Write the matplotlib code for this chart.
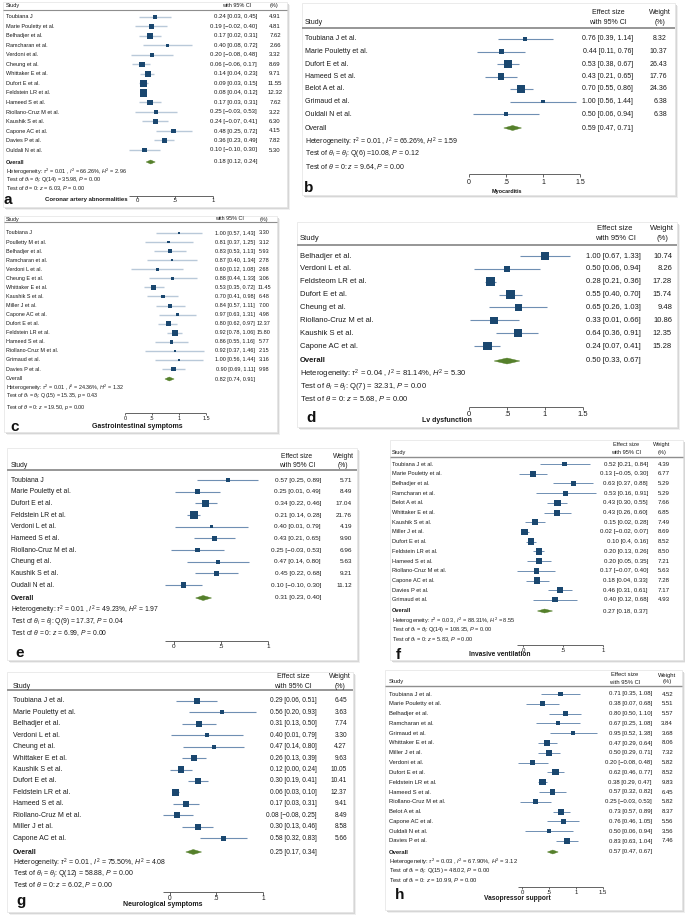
import numpy as np
import matplotlib
matplotlib.use('Agg')
import matplotlib.pyplot as plt
from matplotlib.patches import Rectangle, Polygon
from matplotlib.transforms import blended_transform_factory

plt.rcParams['font.family'] = ['Liberation Sans', 'DejaVu Sans']
plt.rcParams['mathtext.fontset'] = 'custom'
plt.rcParams['mathtext.rm'] = 'Liberation Sans'
plt.rcParams['mathtext.it'] = 'Liberation Sans:italic'
plt.rcParams['mathtext.bf'] = 'Liberation Sans:bold'

# ---------------- DATA ----------------
# a: Coronary artery abnormalities
a_studies = ['Toubiana J', 'Marie Pouletty et al.', 'Belhadjer et al.', 'Ramcharan et al.', 'Verdoni et al.',
             'Cheung et al.', 'Whittaker E et al.', 'Dufort E et al.', 'Feldstein LR et al.', 'Hameed S et al.',
             'Riollano-Cruz M et al.', 'Kaushik S et al.', 'Capone AC et al.', 'Davies P et al.', 'Ouldali N et al.']
a_es = [0.24, 0.19, 0.17, 0.40, 0.20, 0.06, 0.14, 0.09, 0.08, 0.17, 0.25, 0.24, 0.48, 0.36, 0.10]
a_lo = [0.03, -0.02, 0.02, 0.08, -0.08, -0.06, 0.04, 0.03, 0.04, 0.03, -0.03, 0.07, 0.25, 0.23, -0.10]
a_hi = [0.45, 0.40, 0.31, 0.72, 0.48, 0.17, 0.23, 0.15, 0.12, 0.31, 0.53, 0.41, 0.72, 0.49, 0.30]
a_wt = [4.91, 4.81, 7.62, 2.66, 3.32, 8.69, 9.71, 11.55, 12.32, 7.62, 3.22, 6.30, 4.15, 7.82, 5.30]
a_ci_text = {11: '0.24 [\u22120.07, 0.41]'}
a_overall = (0.18, 0.12, 0.24)
a_stats = dict(tau2=0.01, I2=66.26, H2=2.96, df=14, Q=35.98, pQ=0.00, z=6.03, pz=0.00)

# b: Myocarditis
b_studies = ['Toubiana J et al.', 'Marie Pouletty et al.', 'Dufort E et al.', 'Hameed S et al.',
             'Belot A et al.', 'Grimaud et al.', 'Ouldali N et al.']
b_es = [0.76, 0.44, 0.53, 0.43, 0.70, 1.00, 0.50]
b_lo = [0.39, 0.11, 0.38, 0.21, 0.55, 0.56, 0.06]
b_hi = [1.14, 0.76, 0.67, 0.65, 0.86, 1.44, 0.94]
b_wt = [8.32, 10.37, 26.43, 17.76, 24.36, 6.38, 6.38]
b_ci_text = {}
b_overall = (0.59, 0.47, 0.71)
b_stats = dict(tau2=0.01, I2=66.26, H2=1.59, df=6, Q=10.08, pQ=0.12, z=9.64, pz=0.00)

# c: Gastrointestinal symptoms
c_studies = ['Toubiana J', 'Poulletty M et al.', 'Belhadjer et al.', 'Ramcharan et al.', 'Verdoni L et al.',
             'Cheung E et al.', 'Whittaker E et al.', 'Kaushik S et al.', 'Miller J et al.', 'Capone AC et al.',
             'Dufort E et al.', 'Feldstein LR et al.', 'Hameed S et al.', 'Riollano-Cruz M et al.',
             'Grimaud et al.', 'Davies P et al.']
c_es = [1.00, 0.81, 0.83, 0.87, 0.60, 0.88, 0.53, 0.70, 0.84, 0.97, 0.80, 0.92, 0.86, 0.92, 1.00, 0.90]
c_lo = [0.57, 0.37, 0.53, 0.40, 0.12, 0.44, 0.35, 0.41, 0.57, 0.63, 0.62, 0.78, 0.55, 0.37, 0.56, 0.69]
c_hi = [1.43, 1.25, 1.13, 1.34, 1.08, 1.33, 0.72, 0.98, 1.11, 1.31, 0.97, 1.06, 1.16, 1.46, 1.44, 1.11]
c_wt = [3.30, 3.12, 5.93, 2.78, 2.68, 3.06, 11.45, 6.48, 7.00, 4.98, 12.37, 15.80, 5.77, 2.15, 3.16, 9.98]
c_ci_text = {}
c_overall = (0.82, 0.74, 0.91)
c_stats = dict(tau2=0.01, I2=24.36, H2=1.32, df=15, Q=15.35, pQ=0.43, z=19.50, pz=0.00)

# d: Lv dysfunction
d_studies = ['Belhadjer et al.', 'Verdoni L et al.', 'Feldsteom LR et al.', 'Dufort E et al.', 'Cheung et al.',
             'Riollano-Cruz M et al.', 'Kaushik S et al.', 'Capone AC et al.']
d_es = [1.00, 0.50, 0.28, 0.55, 0.65, 0.33, 0.64, 0.24]
d_lo = [0.67, 0.06, 0.21, 0.40, 0.26, 0.01, 0.36, 0.07]
d_hi = [1.33, 0.94, 0.36, 0.70, 1.03, 0.66, 0.91, 0.41]
d_wt = [10.74, 8.26, 17.28, 15.74, 9.48, 10.86, 12.35, 15.28]
d_ci_text = {}
d_overall = (0.50, 0.33, 0.67)
d_stats = dict(tau2=0.04, I2=81.14, H2=5.30, df=7, Q=32.31, pQ=0.00, z=5.68, pz=0.00)

# e
e_studies = ['Toubiana J', 'Marie Pouletty et al.', 'Dufort E et al.', 'Feldstein LR et al.', 'Verdoni L et al.',
             'Hameed S et al.', 'Riollano-Cruz M et al.', 'Cheung et al.', 'Kaushik S et al.', 'Oudali N et al.']
e_es = [0.57, 0.25, 0.34, 0.21, 0.40, 0.43, 0.25, 0.47, 0.45, 0.10]
e_lo = [0.25, 0.01, 0.22, 0.14, 0.01, 0.21, -0.03, 0.14, 0.22, -0.10]
e_hi = [0.89, 0.49, 0.46, 0.28, 0.79, 0.65, 0.53, 0.80, 0.68, 0.30]
e_wt = [5.71, 8.49, 17.04, 21.76, 4.19, 9.90, 6.96, 5.63, 9.21, 11.12]
e_ci_text = {}
e_overall = (0.31, 0.23, 0.40)
e_stats = dict(tau2=0.01, I2=49.23, H2=1.97, df=9, Q=17.37, pQ=0.04, z=6.99, pz=0.00)

# f: Invasive ventilation
f_studies = ['Toubiana J et al.', 'Marie Pouletty et al.', 'Belhadjer et al.', 'Ramcharan et al.', 'Belot A et al.',
             'Whittaker E et al.', 'Kaushik S et al.', 'Miller J et al.', 'Dufort E et al.', 'Feldstein LR et al.',
             'Hameed S et al.', 'Riollano-Cruz M et al.', 'Capone AC et al.', 'Davies P et al.', 'Grimaud et al.']
f_es = [0.52, 0.13, 0.63, 0.53, 0.43, 0.43, 0.15, 0.02, 0.10, 0.20, 0.20, 0.17, 0.18, 0.46, 0.40]
f_lo = [0.21, -0.05, 0.37, 0.16, 0.30, 0.26, 0.02, -0.02, 0.04, 0.13, 0.05, -0.07, 0.04, 0.31, 0.12]
f_hi = [0.84, 0.30, 0.88, 0.91, 0.55, 0.60, 0.28, 0.07, 0.16, 0.26, 0.35, 0.40, 0.33, 0.61, 0.68]
f_wt = [4.39, 6.77, 5.29, 5.29, 7.66, 6.85, 7.49, 8.69, 8.52, 8.50, 7.21, 5.63, 7.28, 7.17, 4.93]
f_ci_text = {8: '0.10 [0.4, 0.16]'}
f_overall = (0.27, 0.18, 0.37)
f_stats = dict(tau2=0.03, I2=88.31, H2=8.55, df=14, Q=108.35, pQ=0.00, z=5.83, pz=0.00)

# g: Neurological symptoms
g_studies = ['Toubiana J et al.', 'Marie Pouletty et al.', 'Belhadjer et al.', 'Verdoni L et al.', 'Cheung et al.',
             'Whittaker E et al.', 'Kaushik S et al.', 'Dufort E et al.', 'Feldstein LR et al.', 'Hameed S et al.',
             'Riollano-Cruz M et al.', 'Miller J et al.', 'Capone AC et al.']
g_es = [0.29, 0.56, 0.31, 0.40, 0.47, 0.26, 0.12, 0.30, 0.06, 0.17, 0.08, 0.30, 0.58]
g_lo = [0.06, 0.20, 0.13, 0.01, 0.14, 0.13, 0.00, 0.19, 0.03, 0.03, -0.08, 0.13, 0.32]
g_hi = [0.51, 0.93, 0.50, 0.79, 0.80, 0.39, 0.24, 0.41, 0.10, 0.31, 0.25, 0.46, 0.83]
g_wt = [6.45, 3.63, 7.74, 3.30, 4.27, 9.63, 10.05, 10.41, 12.37, 9.41, 8.49, 8.58, 5.66]
g_ci_text = {}
g_overall = (0.25, 0.17, 0.34)
g_stats = dict(tau2=0.01, I2=75.50, H2=4.08, df=12, Q=58.88, pQ=0.00, z=6.02, pz=0.00)

# h: Vasopressor support
h_studies = ['Toubiana J et al.', 'Marie Pouletty et al.', 'Belhadjer et al.', 'Ramcharan et al.', 'Grimaud et al.',
             'Whittaker E et al.', 'Miller J et al.', 'Verdoni et al.', 'Dufort E et al.', 'Feldstein LR et al.',
             'Hameed S et al.', 'Riollano-Cruz M et al.', 'Belot A et al.', 'Capone AC et al.',
             'Ouldali N et al.', 'Davies P et al.']
h_es = [0.71, 0.38, 0.80, 0.67, 0.95, 0.47, 0.50, 0.20, 0.62, 0.38, 0.57, 0.25, 0.73, 0.76, 0.50, 0.83]
h_lo = [0.35, 0.07, 0.50, 0.25, 0.52, 0.29, 0.29, -0.08, 0.46, 0.29, 0.32, -0.03, 0.57, 0.46, 0.06, 0.63]
h_hi = [1.08, 0.68, 1.10, 1.08, 1.38, 0.64, 0.71, 0.48, 0.77, 0.47, 0.82, 0.53, 0.89, 1.05, 0.94, 1.04]
h_wt = [4.52, 5.51, 5.57, 3.84, 3.68, 8.06, 7.32, 5.82, 8.52, 9.83, 6.45, 5.82, 8.37, 5.56, 3.56, 7.46]
h_ci_text = {}
h_overall = (0.57, 0.47, 0.67)
h_stats = dict(tau2=0.03, I2=67.90, H2=3.12, df=15, Q=48.02, pQ=0.00, z=10.99, pz=0.00)

tick_vals_1 = [0, 0.5, 1]
tick_vals_15 = [0, 0.5, 1, 1.5]
tick_labels_1 = ['0', '.5', '1']
tick_labels_15 = ['0', '.5', '1', '1.5']

# ---------------- STYLE ----------------
W, H = 685, 915
fig = plt.figure(figsize=(W / 100, H / 100), dpi=100)
fig.patch.set_facecolor('white')

NAVY = '#1a476f'
GREEN = '#55802b'
CI_DARK = '#6f8fb3'
CI_LIGHT = '#b9c9d9'
TXT = '#1a1a1a'


def fmt(v):
    s = f'{abs(v):.2f}'
    return ('\u2212' + s) if v < 0 else s


def ci_str(e, l, h):
    return f'{fmt(e)} [{fmt(l)}, {fmt(h)}]'


def draw_panel(studies, es, lo, hi, wt, ci_over, overall, st, ticks, tlabs, L):
    x0, y0, x1, y1 = L['box']
    bw, bh = (x1 - x0) / W, (y1 - y0) / H
    for off, col in [(3.2, '#efefef'), (1.7, '#d6d6d6')]:
        fig.add_artist(Rectangle(((x0 + off) / W, 1 - (y1 + off) / H), bw, bh, transform=fig.transFigure,
                                 facecolor=col, edgecolor='none', zorder=-10))
    fig.add_artist(Rectangle((x0 / W, 1 - y1 / H), bw, bh, transform=fig.transFigure,
                             facecolor='white', edgecolor='#e3e3e3', lw=0.5, zorder=-9))
    ax = fig.add_axes([x0 / W, 1 - y1 / H, bw, bh])
    ax.axis('off')
    px0, sc = L['px0'], L['scale']
    ax.set_xlim((x0 - px0) / sc, (x1 - px0) / sc)
    first, step = L['first'], L['step']

    def r(ypx):
        return (ypx - first) / step

    ax.set_ylim(r(y1), r(y0))
    tr = blended_transform_factory(ax.transAxes, ax.transData)

    def fa(xpx):
        return (xpx - x0) / (x1 - x0)

    fs = L['fs']
    fn = L['fs_num']
    tk = dict(fontsize=fs, color=TXT, va='center', transform=tr, clip_on=False)
    tn = dict(fontsize=fn, color=TXT, va='center', transform=tr, clip_on=False)
    wha = L.get('wt_ha', 'right')
    # header
    ax.text(fa(L['x_study']), r(L['h2']), 'Study', ha='left', **tk)
    if L['h1'] is not None:
        ax.text(fa(L['x_ci_h']), r(L['h1']), 'Effect size', ha='center', **tk)
        ax.text(fa(L['x_wt_h']), r(L['h1']), 'Weight', ha='center', **tk)
    ax.text(fa(L['x_ci_h']), r(L['h2']), 'with 95% CI', ha='center', **tk)
    ax.text(fa(L['x_wt_h']), r(L['h2']), '(%)', ha='center', **tk)
    ax.plot([0, 1], [r(L['hline'])] * 2, transform=tr, color='#8e8e8e', lw=L.get('hlw', 1.0),
            clip_on=False, solid_capstyle='butt')

    n = len(studies)
    rows = np.arange(n)
    ax.hlines(rows, lo, hi, color=L['ci_col'], lw=L['ci_lw'], zorder=2)
    sizes = (L['k'] * np.sqrt(np.array(wt)) * 0.72) ** 2
    ax.scatter(es, rows, marker='s', s=sizes, color=NAVY, linewidths=0, zorder=3)
    for i in range(n):
        ax.text(fa(L['x_study']), i, studies[i], ha='left', **tk)
        ax.text(fa(L['x_ci_r']), i, ci_over.get(i, ci_str(es[i], lo[i], hi[i])), ha='right', **tn)
        ax.text(fa(L['x_wt_r']), i, f'{wt[i]:.2f}', ha=wha, **tn)

    # overall
    oe, ol, oh = overall
    ro = r(L['y_ov'])
    dh = L['dia_h'] / 2 / step
    ax.add_patch(Polygon([(ol, ro), (oe, ro - dh), (oh, ro), (oe, ro + dh)], closed=True,
                         facecolor=GREEN, edgecolor=GREEN, lw=0.3, zorder=3))
    ax.text(fa(L['x_study']), ro, 'Overall', ha='left', fontweight='bold' if L['ov_bold'] else 'normal', **tk)
    ax.text(fa(L['x_ci_r']), ro, ci_str(oe, ol, oh), ha='right', **tn)

    p = L.get('p', 'P')
    th0 = L.get('th0', r'$\theta$')
    qsep = L.get('qsep', ' ')
    lines = [
        rf'Heterogeneity: $\tau^2$ = {st["tau2"]:.2f} , $I^2$ = {st["I2"]:.2f}%, $H^2$ = {st["H2"]:.2f}',
        rf'Test of $\theta_i$ = $\theta_j$: Q({st["df"]}) ={qsep}{st["Q"]:.2f}, ${p}$ = {st["pQ"]:.2f}',
        rf'Test of {th0} = 0: $z$ = {st["z"]:.2f}, ${p}$ = {st["pz"]:.2f}',
    ]
    for yy, s in zip(L['stats'], lines):
        ax.text(fa(L['x_study']), r(yy), s, ha='left', **tk)

    # x axis
    ra = r(L['axis_y'])
    x_start = min(0.0, float(np.min(lo)))
    ax.plot([x_start, ticks[-1]], [ra, ra], color='#4a4a4a', lw=0.6, clip_on=False, solid_capstyle='butt')
    ax.vlines(ticks, ra, r(L['axis_y'] + L['tick_len']), color='#4a4a4a', lw=0.6, clip_on=False)
    for t, lab in zip(ticks, tlabs):
        ax.text(t, r(L['tick_y']), lab, ha='center', va='center', fontsize=fn, color=TXT, clip_on=False)
    if L['title']:
        ax.text(fa(L['title_x']), r(L['title_y']), L['title'], ha='center', va='center',
                fontsize=L['fs_title'], fontweight='bold', color=TXT, transform=tr, clip_on=False)
    ax.text(fa(L['let_x']), r(L['let_y']), L['letter'], ha='left', va='center', fontsize=11,
            fontweight='bold', color='#111111', transform=tr, clip_on=False)


LA = dict(box=(3, 2, 287, 207), px0=137, scale=76, first=17, step=9.5, y_ov=162, stats=(172, 181, 189),
          h1=None, h2=6, hline=10, x_study=6, x_ci_r=257, x_ci_h=237, x_wt_r=275, x_wt_h=274, wt_ha='center',
          axis_y=196, tick_len=2, tick_y=201, title='Coronar artery abnormalities', title_x=86, title_y=200,
          letter='a', let_x=4, let_y=200, fs=4.0, fs_num=4.3, fs_title=4.3, k=2.0, dia_h=4, ci_col=CI_LIGHT,
          ci_lw=1.0, ov_bold=True, hlw=0.8)
LB = dict(box=(302, 3, 675, 195), px0=469, scale=74, first=39, step=12.5, y_ov=128, stats=(142, 154, 167),
          h1=13, h2=23, hline=28, x_study=305, x_ci_r=633, x_ci_h=608, x_wt_r=667, x_wt_h=660,
          axis_y=174, tick_len=3, tick_y=182, title='Myocarditis', title_x=507, title_y=191,
          letter='b', let_x=304, let_y=188, fs=5.0, fs_num=5.0, fs_title=4.0, k=1.56, dia_h=5, ci_col=CI_DARK,
          ci_lw=0.8, ov_bold=False, qsep='', hlw=1.3)
LC = dict(box=(4, 216, 277, 432), px0=125, scale=54, first=233, step=9.07, y_ov=379, stats=(388, 397, 408),
          h1=None, h2=219, hline=222, x_study=6, x_ci_r=255, x_ci_h=229, x_wt_r=264, x_wt_h=264, wt_ha='center',
          axis_y=413, tick_len=2, tick_y=418, title='Gastrointestinal symptoms', title_x=137, title_y=427,
          letter='c', let_x=10, let_y=427, fs=3.9, fs_num=4.0, fs_title=5.0, k=1.5, dia_h=4, ci_col=CI_LIGHT,
          ci_lw=1.0, ov_bold=False, p='p', hlw=0.8)
LD = dict(box=(297, 222, 677, 427), px0=469, scale=76, first=256, step=12.86, y_ov=361, stats=(374, 387, 399),
          h1=229, h2=239, hline=245, x_study=300, x_ci_r=641, x_ci_h=615, x_wt_r=672, x_wt_h=662,
          axis_y=407, tick_len=3, tick_y=414, title='Lv dysfunction', title_x=447, title_y=421,
          letter='d', let_x=306, let_y=418, fs=5.5, fs_num=5.5, fs_title=5.0, k=2.2, dia_h=6, ci_col=CI_DARK,
          ci_lw=0.8, ov_bold=True, hlw=1.3)
LE = dict(box=(7, 448, 357, 660), px0=174, scale=94, first=480, step=11.67, y_ov=598, stats=(610, 622, 633),
          h1=456, h2=465, hline=470, x_study=11, x_ci_r=321, x_ci_h=297, x_wt_r=352, x_wt_h=343,
          axis_y=641, tick_len=3, tick_y=647, title=None, title_x=0, title_y=0,
          letter='e', let_x=15, let_y=653, fs=4.9, fs_num=4.6, fs_title=5.0, k=1.7, dia_h=5, ci_col=CI_DARK,
          ci_lw=0.8, ov_bold=True, hlw=1.3)
LF = dict(box=(390, 440, 683, 660), px0=523, scale=80, first=464, step=9.71, y_ov=611, stats=(621, 631, 640),
          h1=444, h2=452, hline=457, x_study=392, x_ci_r=648, x_ci_h=626, x_wt_r=670, x_wt_h=662,
          axis_y=645, tick_len=2, tick_y=650, title='Invasive ventilation', title_x=500, title_y=655,
          letter='f', let_x=396, let_y=655, fs=4.1, fs_num=4.4, fs_title=4.8, k=2.27, dia_h=4, ci_col=CI_DARK,
          ci_lw=0.7, ov_bold=True, th0=r'$\theta_i$', hlw=1.0)
LG = dict(box=(7, 672, 353, 912), px0=170, scale=93, first=701, step=11.42, y_ov=852, stats=(863, 874, 885),
          h1=677, h2=686, hline=690, x_study=13, x_ci_r=317, x_ci_h=293, x_wt_r=347, x_wt_h=340,
          axis_y=892, tick_len=3, tick_y=898, title='Neurological symptoms', title_x=163, title_y=905,
          letter='g', let_x=16, let_y=901, fs=5.0, fs_num=4.7, fs_title=5.0, k=2.1, dia_h=5, ci_col=CI_DARK,
          ci_lw=0.8, ov_bold=True, hlw=1.3)
LH = dict(box=(385, 670, 682, 910), px0=522, scale=54, first=694, step=9.8, y_ov=852, stats=(862, 872, 881),
          h1=675, h2=682, hline=686, x_study=389, x_ci_r=652, x_ci_h=625, x_wt_r=673, x_wt_h=667,
          axis_y=887, tick_len=2, tick_y=893, title='Vasopressor support', title_x=517, title_y=898,
          letter='h', let_x=395, let_y=895, fs=4.2, fs_num=4.3, fs_title=4.8, k=2.1, dia_h=4, ci_col=CI_DARK,
          ci_lw=0.7, ov_bold=True, th0=r'$\theta_i$', hlw=1.0)

draw_panel(a_studies, a_es, a_lo, a_hi, a_wt, a_ci_text, a_overall, a_stats, tick_vals_1, tick_labels_1, LA)
draw_panel(b_studies, b_es, b_lo, b_hi, b_wt, b_ci_text, b_overall, b_stats, tick_vals_15, tick_labels_15, LB)
draw_panel(c_studies, c_es, c_lo, c_hi, c_wt, c_ci_text, c_overall, c_stats, tick_vals_15, tick_labels_15, LC)
draw_panel(d_studies, d_es, d_lo, d_hi, d_wt, d_ci_text, d_overall, d_stats, tick_vals_15, tick_labels_15, LD)
draw_panel(e_studies, e_es, e_lo, e_hi, e_wt, e_ci_text, e_overall, e_stats, tick_vals_1, tick_labels_1, LE)
draw_panel(f_studies, f_es, f_lo, f_hi, f_wt, f_ci_text, f_overall, f_stats, tick_vals_1, tick_labels_1, LF)
draw_panel(g_studies, g_es, g_lo, g_hi, g_wt, g_ci_text, g_overall, g_stats, tick_vals_1, tick_labels_1, LG)
draw_panel(h_studies, h_es, h_lo, h_hi, h_wt, h_ci_text, h_overall, h_stats, tick_vals_15, tick_labels_15, LH)

fig.savefig('out.png', dpi=100, facecolor='white')
